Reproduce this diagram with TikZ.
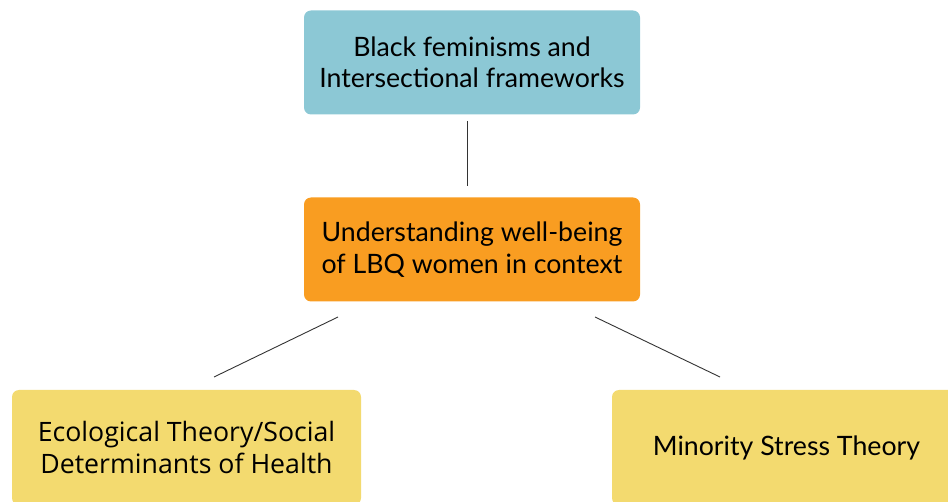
\documentclass[tikz,border=0pt]{standalone}
\usepackage{fontspec}
\setmainfont{Lato}
\newfontfamily\opensans{Open Sans}
\definecolor{frameblue}{HTML}{8CC8D5}
\definecolor{coreorange}{HTML}{F99D21}
\definecolor{theoryyellow}{HTML}{F3DA6F}
\tikzset{
  box/.style={rounded corners=7pt, minimum width=336pt, minimum height=104pt,
    align=center, inner sep=0pt, font=\fontsize{26.7}{31.5}\selectfont},
  link/.style={draw=black!80, line width=0.9pt}
}
\begin{document}
\begin{tikzpicture}[x=1pt,y=-1pt]
      \useasboundingbox (0,0) rectangle (948,502);
      \clip (0,0) rectangle (948,502);
      \draw
        (472,62.5) node[box, fill=frameblue] (frame){Black feminisms and\\Intersectional frameworks}
        (472,249.5) node[box, fill=coreorange] (core){Understanding well-being\\of LBQ women in context}
        (186.5,447.5) node[box, fill=theoryyellow, minimum width=349pt, minimum height=115pt,
          font=\opensans\fontsize{26.7}{31.5}\selectfont] (eco){Ecological Theory/Social\\Determinants of Health}
        (786.5,447.5) node[box, fill=theoryyellow, minimum width=349pt, minimum height=115pt] (mst){Minority Stress Theory};
      % connector ends stop short of the boxes
      \coordinate (frame-s) at (467,121);
      \coordinate (core-n) at (467,186);
      \coordinate (core-sw) at (338,317);
      \coordinate (eco-n) at (214,377);
      \coordinate (core-se) at (595,317);
      \coordinate (mst-n) at (720,377);
      \begin{scope}[link]
        \draw (frame-s) to (core-n);
        \draw (core-sw) to (eco-n);
        \draw (core-se) to (mst-n);
      \end{scope}
    \end{tikzpicture}
\end{document}
